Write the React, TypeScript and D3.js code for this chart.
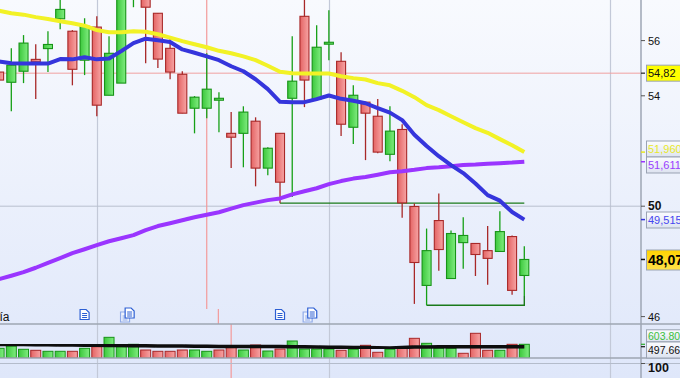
import React from 'react';
import * as d3 from 'd3';

const W = 680;
const H = 378;

// OHLC (one per trading day)
const opens = [54.86, 54.49, 54.89, 55.32, 55.71, 56.79, 56.34, 55.29, 56.49, 54.02, 54.46, 57.6, 57.9, 56.99, 55.72, 54.78, 53.55, 53.55, 53.84, 52.64, 52.64, 53.08, 51.38, 52.64, 53.91, 56.88, 53.88, 55.87, 55.25, 52.86, 53.77, 53.26, 51.88, 52.78, 49.99, 47.13, 49.48, 47.38, 48.68, 48.65, 48.39, 48.36, 48.9, 47.49];
const highs = [55.1, 55.72, 56.2, 55.87, 56.34, 57.6, 56.38, 56.81, 56.88, 56.16, 58.0, 58.4, 58.1, 57.0, 56.09, 54.89, 53.99, 55.54, 54.13, 53.41, 53.62, 53.22, 52.14, 52.64, 56.16, 57.6, 56.56, 57.1, 55.58, 54.38, 53.77, 53.88, 53.62, 52.97, 50.1, 49.19, 50.46, 49.12, 49.6, 48.65, 49.28, 49.82, 48.94, 48.55];
const lows = [54.3, 53.44, 54.46, 53.88, 54.86, 56.41, 54.38, 54.75, 53.26, 54.02, 54.46, 57.21, 55.18, 55.01, 54.6, 53.37, 52.64, 53.19, 52.68, 51.38, 51.41, 50.72, 51.12, 50.11, 50.33, 53.59, 53.88, 55.29, 52.54, 52.25, 51.67, 51.92, 51.63, 49.58, 46.46, 46.41, 47.66, 47.38, 47.73, 47.47, 47.15, 48.36, 46.79, 46.75];
const closes = [54.57, 55.11, 55.91, 55.23, 55.86, 57.13, 54.96, 56.52, 53.66, 55.54, 57.8, 58.2, 57.21, 55.33, 54.86, 53.37, 53.95, 54.24, 53.91, 52.5, 53.41, 51.38, 52.1, 50.87, 54.53, 54.57, 55.76, 55.94, 52.97, 54.02, 53.37, 51.96, 52.72, 50.12, 47.96, 48.39, 48.43, 49.01, 48.94, 48.25, 48.11, 49.08, 46.95, 48.07];

// volume in thousands
const volumes = [427, 528, 383, 339, 295, 295, 295, 427, 498, 911, 498, 603, 352, 295, 295, 352, 352, 295, 352, 528, 352, 572, 308, 396, 749, 396, 396, 396, 339, 383, 559, 251, 383, 471, 867, 647, 427, 427, 207, 1088, 339, 339, 603, 603.8];
const volMA = [594, 594, 590, 585, 580, 572, 570, 565, 560, 550, 548, 545, 540, 530, 528, 525, 520, 515, 512, 510, 508, 506, 505, 503, 500, 498, 490, 475, 471, 468, 462, 450, 440, 462, 484, 490, 495, 497, 497, 498, 498, 498, 498, 497.66];

// moving averages
const maYellow = [57.08, 56.99, 56.94, 56.85, 56.78, 56.7, 56.63, 56.54, 56.38, 56.3, 56.3, 56.34, 56.32, 56.23, 56.11, 55.98, 55.87, 55.76, 55.63, 55.54, 55.43, 55.29, 55.09, 54.87, 54.82, 54.81, 54.81, 54.81, 54.71, 54.64, 54.59, 54.46, 54.38, 54.18, 53.95, 53.66, 53.48, 53.26, 53.04, 52.83, 52.66, 52.43, 52.21, 51.96];
const maBlue = [55.24, 55.18, 55.17, 55.17, 55.17, 55.33, 55.32, 55.4, 55.32, 55.35, 55.62, 55.91, 56.07, 56.01, 55.95, 55.68, 55.56, 55.43, 55.29, 55.07, 54.89, 54.6, 54.24, 53.78, 53.77, 53.77, 53.88, 54.01, 53.89, 53.82, 53.73, 53.55, 53.39, 53.12, 52.59, 52.18, 51.81, 51.49, 51.2, 50.82, 50.4, 50.2, 49.79, 49.515];
const maPurple = [47.36, 47.48, 47.61, 47.77, 47.95, 48.12, 48.3, 48.44, 48.59, 48.73, 48.84, 48.95, 49.13, 49.28, 49.38, 49.49, 49.6, 49.69, 49.78, 49.91, 50.04, 50.13, 50.22, 50.28, 50.43, 50.54, 50.65, 50.8, 50.91, 51.0, 51.06, 51.14, 51.23, 51.27, 51.32, 51.38, 51.41, 51.45, 51.49, 51.51, 51.54, 51.56, 51.58, 51.611];

const priceTicks = [46, 50, 54, 56];
const boldTicks = [50];
const refLevel = 54.82;
const gridIdx = [8, 27, 50];
const gridLevels = [50];
const supportFrom = [23, 35];
const newsIcons: [number, string][] = [[7, 'single'], [10.5, 'double'], [23, 'single'], [25.45, 'double']];
const markerIdx = [17, 18, 19];

const PANE_TOP = 0, PANE_BOT = 309, NEWS_BOT = 324, VOL_BOT = 358, LOW_TOP = 363.5;
const AXIS_X = 641;

const x = d3.scaleLinear().domain([0, 43]).range([-0.9, 524.3]);
const y = d3.scaleLinear().domain([46, 56]).range([316.6, 40.6]);
const yv = d3.scaleLinear().domain([0, 1000]).range([VOL_BOT, 335.3]);
const last = closes.length - 1;

const fmt = (v: number, d: number) => v.toFixed(d).replace('.', ',');

function Doc({ cx, cy }: { cx: number; cy: number }) {
  const l = cx - 4.5, t = cy - 5;
  return (
    <g>
      <path d={`M${l},${t} h6 l3,3 v7 h-9 Z`} fill="#fff" stroke="#2d5fd3" strokeWidth={1.2} />
      <line x1={l + 2} x2={l + 7} y1={t + 4} y2={t + 4} stroke="#2d5fd3" strokeWidth={1} />
      <line x1={l + 2} x2={l + 7} y1={t + 6} y2={t + 6} stroke="#2d5fd3" strokeWidth={1} />
      <line x1={l + 2} x2={l + 7} y1={t + 8} y2={t + 8} stroke="#2d5fd3" strokeWidth={1} />
    </g>
  );
}

function Label({ yc, text, h, fill, color, bold, size }: { yc: number; text: string; h: number; fill: string; color: string; bold?: boolean; size: number }) {
  return (
    <g>
      <rect x={646.5} y={yc - h / 2} width={40} height={h} fill={fill} stroke="#9aa3b3" strokeWidth={1} />
      <text x={648} y={yc + size * 0.36} fontSize={size} fontWeight={bold ? 'bold' : 'normal'} fill={color} fontFamily="'Liberation Sans', Arial, sans-serif">{text}</text>
    </g>
  );
}

export default function App() {
  const mkLine = (arr: number[]) => d3.line<number>().x((_, i) => x(i)).y((d) => y(d))(arr) || '';
  const volLine = d3.line<number>().x((_, i) => x(i)).y((d) => yv(d))(volMA) || '';
  const up = (i: number) => closes[i] >= opens[i];
  const volUp = (i: number) => (i === 0 ? true : closes[i] >= closes[i - 1]);

  return (
    <div style={{ position: 'fixed', left: 0, top: 0, width: W, height: H }}>
      <svg width={W} height={H} style={{ display: 'block' }} fontFamily="'Liberation Sans', Arial, sans-serif">
        <defs>
          <linearGradient id="bg" x1="0" y1="0" x2="0" y2="1">
            <stop offset="0" stopColor="#f8fafe" />
            <stop offset="1" stopColor="#dfe7fa" />
          </linearGradient>
          <linearGradient id="gUp" x1="0" y1="0" x2="1" y2="0">
            <stop offset="0" stopColor="#3cc83c" />
            <stop offset="1" stopColor="#80ec80" />
          </linearGradient>
          <linearGradient id="gDn" x1="0" y1="0" x2="1" y2="0">
            <stop offset="0" stopColor="#e46464" />
            <stop offset="1" stopColor="#f7a4a4" />
          </linearGradient>
          <linearGradient id="lbl" x1="0" y1="0" x2="0" y2="1">
            <stop offset="0" stopColor="#fbfcff" />
            <stop offset="1" stopColor="#dde3f0" />
          </linearGradient>
          <linearGradient id="gold" x1="0" y1="0" x2="0" y2="1">
            <stop offset="0" stopColor="#ffd200" />
            <stop offset="1" stopColor="#ffe24a" />
          </linearGradient>
          <clipPath id="cMain"><rect x={0} y={PANE_TOP} width={AXIS_X} height={PANE_BOT - PANE_TOP} /></clipPath>
          <clipPath id="cVol"><rect x={0} y={NEWS_BOT} width={AXIS_X} height={VOL_BOT - NEWS_BOT} /></clipPath>
          <filter id="soft" x="-5%" y="-5%" width="110%" height="110%"><feGaussianBlur stdDeviation="0.5" /></filter>
        </defs>

        <rect x={0} y={0} width={W} height={H} fill="url(#bg)" />

        {/* grid */}
        {gridIdx.map((g) => (
          <line key={g} x1={Math.round(x(g)) + 0.5} x2={Math.round(x(g)) + 0.5} y1={0} y2={H} stroke="#c3c9d8" strokeWidth={1.2} />
        ))}
        {gridLevels.map((g) => (
          <line key={g} x1={0} x2={AXIS_X} y1={y(g)} y2={y(g)} stroke="#b8bfce" strokeWidth={1} />
        ))}
        <line x1={0} x2={AXIS_X} y1={y(refLevel)} y2={y(refLevel)} stroke="#f0a0a0" strokeWidth={1} />

        {/* red markers */}
        <line x1={x(markerIdx[0])} x2={x(markerIdx[0])} y1={0} y2={PANE_BOT} stroke="#f39a9a" strokeWidth={1.2} />
        <line x1={x(markerIdx[1]) - 0.6} x2={x(markerIdx[1]) - 0.6} y1={PANE_BOT} y2={NEWS_BOT} stroke="#f39a9a" strokeWidth={1.2} />
        <line x1={x(markerIdx[2])} x2={x(markerIdx[2])} y1={NEWS_BOT} y2={H} stroke="#f39a9a" strokeWidth={1.2} />

        <g clipPath="url(#cMain)">
          {/* support lines */}
          {supportFrom.map((s) => (
            <path key={s} d={`M${x(s)},${y(lows[s])} H${x(last)} ${s === 35 ? `V${y(lows[last])}` : ''}`} fill="none" stroke="#1a7a1a" strokeWidth={1.4} />
          ))}
          {/* candles */}
          {closes.map((c, i) => {
            const u = up(i);
            const top = y(Math.max(opens[i], c));
            const bot = y(Math.min(opens[i], c));
            const cx = x(i);
            return (
              <g key={i}>
                <line x1={cx} x2={cx} y1={y(highs[i])} y2={y(lows[i])} stroke={u ? '#16a016' : '#a82828'} strokeWidth={1.3} />
                <rect x={cx - 4.5} y={top} width={9} height={Math.max(1.5, bot - top)} fill={u ? 'url(#gUp)' : 'url(#gDn)'} stroke={u ? '#179417' : '#a82828'} strokeWidth={1.1} />
              </g>
            );
          })}
          {/* moving averages */}
          <path d={mkLine(maPurple)} fill="none" stroke="#9a34ff" strokeWidth={4} strokeLinejoin="round" filter="url(#soft)" />
          <path d={mkLine(maYellow)} fill="none" stroke="#f2f225" strokeWidth={4} strokeLinejoin="round" filter="url(#soft)" />
          <path d={mkLine(maBlue)} fill="none" stroke="#3434dc" strokeWidth={4} strokeLinejoin="round" filter="url(#soft)" />
        </g>

        {/* news strip */}
        <text x={9.5} y={321} fontSize={12} textAnchor="end" fill="#111">Día</text>
        {newsIcons.map(([p, kind], k) => (
          kind === 'single' ? (
            <Doc key={k} cx={x(p)} cy={314.5} />
          ) : (
            <g key={k}>
              <g opacity={0.45}><Doc cx={x(p) - 2.3} cy={317} /></g>
              <Doc cx={x(p) + 2.3} cy={313} />
            </g>
          )
        ))}

        {/* volume */}
        <g clipPath="url(#cVol)">
          {volumes.map((v, i) => {
            const u = volUp(i);
            const cx = x(i);
            return (
              <rect key={i} x={cx - 5} y={yv(v)} width={10} height={VOL_BOT - yv(v)} fill={u ? 'url(#gUp)' : 'url(#gDn)'} stroke={u ? '#179417' : '#a82828'} strokeWidth={1} />
            );
          })}
          <path d={volLine} fill="none" stroke="#0a0a0a" strokeWidth={3.5} filter="url(#soft)" />
        </g>

        {/* pane separators */}
        <line x1={0} x2={W} y1={NEWS_BOT} y2={NEWS_BOT} stroke="#9ea6b2" strokeWidth={1.5} />
        <line x1={0} x2={W} y1={VOL_BOT} y2={VOL_BOT} stroke="#9ea6b2" strokeWidth={1.5} />
        <line x1={0} x2={W} y1={LOW_TOP} y2={LOW_TOP} stroke="#b4bccb" strokeWidth={1} />

        {/* right axis */}
        <line x1={AXIS_X} x2={AXIS_X} y1={0} y2={H} stroke="#9ea6b4" strokeWidth={1.5} />
        {priceTicks.map((t) => (
          <g key={t}>
            <line x1={AXIS_X} x2={AXIS_X + 4} y1={y(t)} y2={y(t)} stroke="#555" strokeWidth={1} />
            <text x={648} y={y(t) + 4} fontSize={boldTicks.includes(t) ? 12 : 11} fontWeight={boldTicks.includes(t) ? 'bold' : 'normal'} fill="#111">{t}</text>
          </g>
        ))}

        <line x1={AXIS_X} x2={AXIS_X + 4} y1={y(refLevel)} y2={y(refLevel)} stroke="#222" strokeWidth={1.2} />
        <Label yc={y(refLevel)} text={fmt(refLevel, 2)} h={16} fill="#ffff00" color="#111" size={11} />

        <line x1={AXIS_X} x2={AXIS_X + 4} y1={y(maYellow[last])} y2={y(maYellow[last])} stroke="#e6e620" strokeWidth={1.5} />
        <Label yc={149} text={fmt(maYellow[last], 3)} h={16} fill="url(#lbl)" color="#e8e82a" size={11} />
        <line x1={AXIS_X} x2={AXIS_X + 4} y1={y(maPurple[last])} y2={y(maPurple[last])} stroke="#9a34ff" strokeWidth={1.5} />
        <Label yc={165} text={fmt(maPurple[last], 3)} h={16} fill="url(#lbl)" color="#9a40ff" size={11} />
        <line x1={AXIS_X} x2={AXIS_X + 4} y1={y(maBlue[last])} y2={y(maBlue[last])} stroke="#3434dc" strokeWidth={1.5} />
        <Label yc={220} text={fmt(maBlue[last], 3)} h={16} fill="url(#lbl)" color="#4646f0" size={11} />

        <line x1={AXIS_X} x2={AXIS_X + 4} y1={y(closes[last])} y2={y(closes[last])} stroke="#111" strokeWidth={1.5} />
        <Label yc={260} text={fmt(closes[last], 2)} h={20} fill="url(#gold)" color="#000" bold size={14} />

        <line x1={AXIS_X} x2={AXIS_X + 4} y1={yv(volumes[last])} y2={yv(volumes[last])} stroke="#2aa82a" strokeWidth={1.2} />
        <Label yc={335.8} text={volumes[last].toFixed(2)} h={12} fill="url(#lbl)" color="#3cc03c" size={10.5} />
        <line x1={AXIS_X} x2={AXIS_X + 4} y1={yv(volMA[last])} y2={yv(volMA[last])} stroke="#111" strokeWidth={1.2} />
        <Label yc={350} text={volMA[last].toFixed(2)} h={16} fill="url(#lbl)" color="#111" size={10.5} />

        <line x1={AXIS_X} x2={AXIS_X + 4} y1={LOW_TOP} y2={LOW_TOP} stroke="#555" strokeWidth={1} />
        <text x={648} y={372} fontSize={12.5} fontWeight="bold" fill="#111">100</text>
      </svg>
    </div>
  );
}
